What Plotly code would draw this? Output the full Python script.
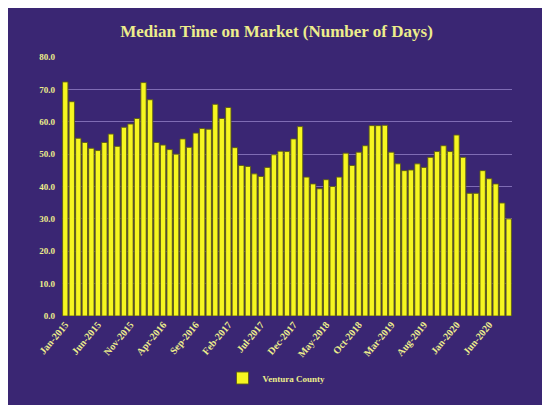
import pandas as pd
import plotly.graph_objects as go

months = [d.strftime("%b-%Y") for d in pd.date_range("2015-01-01", "2020-09-01", freq="MS")]
days = [72.3, 66.2, 54.9, 53.6, 51.8, 51.1, 53.6, 56.2, 52.4, 58.3, 59.3, 61.0,
        72.1, 66.8, 53.6, 52.8, 51.4, 50.0, 54.7, 52.1, 56.5, 57.9, 57.7, 65.4,
        61.0, 64.4, 52.0, 46.5, 46.2, 43.9, 43.1, 45.9, 49.8, 50.9, 50.8, 54.7,
        58.5, 42.9, 40.8, 39.3, 42.1, 40.0, 42.9, 50.3, 46.5, 50.6, 52.6, 58.8,
        58.8, 58.9, 50.6, 47.0, 44.9, 45.1, 47.0, 45.9, 49.0, 50.8, 52.6, 50.8,
        55.9, 49.0, 37.9, 37.9, 44.9, 42.4, 40.8, 34.9, 30.0]
tick_labels = ["Jan-2015", "Jun-2015", "Nov-2015", "Apr-2016", "Sep-2016", "Feb-2017",
               "Jul-2017", "Dec-2017", "May-2018", "Oct-2018", "Mar-2019", "Aug-2019",
               "Jan-2020", "Jun-2020"]
y_ticks = [0, 10, 20, 30, 40, 50, 60, 70, 80]

BG = "#3a2673"
TXT = "#eded8c"
SERIF = "Liberation Serif, Times New Roman, serif"

fig = go.Figure()
fig.add_trace(go.Bar(
    x=months, y=days, name="<b>Ventura County</b>",
    marker=dict(color="#f6f620", line=dict(color="#5e5e14", width=0.9)),
))

fig.update_layout(
    width=537, height=397,
    margin=dict(l=54, r=33, t=49, b=89, autoexpand=False),
    paper_bgcolor=BG, plot_bgcolor=BG,
    bargap=0.18,
    title=dict(text="<b>Median Time on Market (Number of Days)</b>",
               x=0.5, xref="container", xanchor="center",
               y=1 - 23 / 397, yref="container", yanchor="middle",
               font=dict(family=SERIF, size=17, color=TXT)),
    showlegend=True,
    legend=dict(orientation="h", x=0.5, xanchor="center", xref="container",
                y=1 - 370 / 397, yref="container", yanchor="middle",
                font=dict(family=SERIF, size=9, color=TXT),
                itemwidth=30,
                bgcolor="rgba(0,0,0,0)"),
    xaxis=dict(type="category", tickmode="array", tickvals=tick_labels,
               ticktext=["<b>%s</b>" % t for t in tick_labels],
               tickangle=-50, tickfont=dict(family=SERIF, size=10, color=TXT),
               showgrid=False, showline=False, ticks="", automargin=False),
    yaxis=dict(range=[0, 80], tickmode="array", tickvals=y_ticks,
               ticktext=["<b>%.1f</b>" % v for v in y_ticks],
               tickfont=dict(family=SERIF, size=9, color=TXT),
               showgrid=True, gridcolor="#7f6cb4", gridwidth=1,
               zeroline=False, showline=False, ticks="", ticklabelstandoff=6,
               automargin=False),
)

fig.write_html("out.html")
